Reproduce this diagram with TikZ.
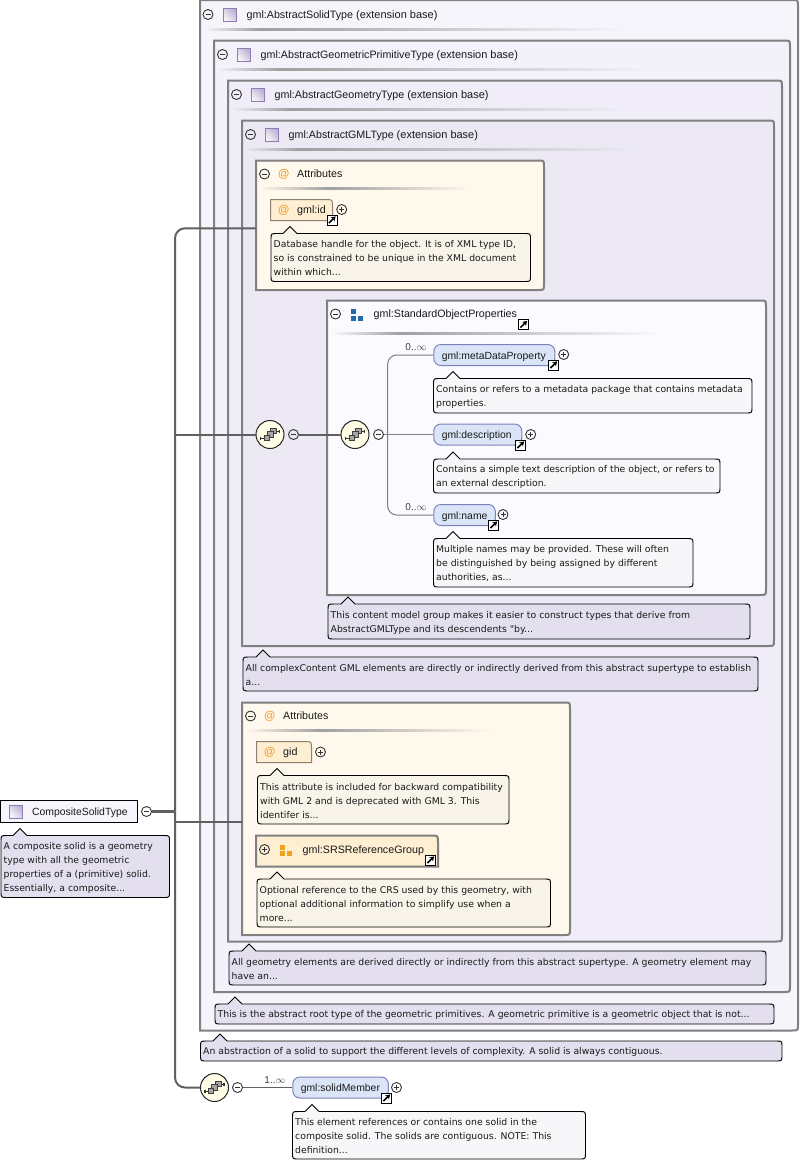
\documentclass[tikz,border=0pt]{standalone}
\usepackage{fontspec}
\setmainfont{Liberation Sans}
\newfontfamily\notefont{DejaVu Sans}
\usetikzlibrary{fit,arrows.meta}

\definecolor{frameline}{HTML}{808080}
\definecolor{trunkline}{HTML}{606060}
\definecolor{levelone}{HTML}{F7F5FC}
\definecolor{leveltwo}{HTML}{F3F1FA}
\definecolor{levelthree}{HTML}{F0EDF8}
\definecolor{levelfour}{HTML}{ECE9F5}
\definecolor{groupfill}{HTML}{FBFBFF}
\definecolor{attrfill}{HTML}{FFF8EC}
\definecolor{tabfill}{HTML}{FFEFD2}
\definecolor{elemfill}{HTML}{DAE6F8}
\definecolor{notelilac}{HTML}{E4DFEE}
\definecolor{notegrey}{HTML}{F7F7F9}
\definecolor{notecream}{HTML}{F8F4EA}
\definecolor{seqfill}{HTML}{FFFDE6}
\definecolor{typeedge}{HTML}{8E7CB6}
\definecolor{attrmark}{HTML}{F0A030}
\definecolor{groupblue}{HTML}{1E6BB0}
\definecolor{grouporange}{HTML}{EFA21C}

\newcommand{\extbase}{{\fontsize{11}{13}\selectfont(extension base)}}

\tikzset{
    framebox/.style={draw=frameline, line width=2pt},
    tabbox/.style={draw=frameline!80!brown, line width=1pt, fill=tabfill},
    notebox/.style={draw=black, line width=0.9pt},
    headtext/.style={font=\fontsize{10.7}{13}\selectfont, text=black!90, inner sep=0, anchor=west, text height=9.6pt, text depth=2pt},
    marktext/.style={headtext, font=\fontsize{11.5}{13}\bfseries\selectfont, text=attrmark},
    notetext/.style={font=\notefont\fontsize{9.3}{14}\selectfont, text=black!90, inner sep=0, anchor=west, align=left, yshift=-1pt},
    multtext/.style={font=\fontsize{10}{12}\selectfont, text=black!75, inner sep=0},
    minusnode/.style={circle, draw=black!80, line width=0.9pt, inner sep=0, minimum size=10pt,
        path picture={\draw[line width=0.9pt, black!80] ([xshift=2.5pt]path picture bounding box.west) -- ([xshift=-2.5pt]path picture bounding box.east);}},
    plusnode/.style={minusnode,
        append after command={(\tikzlastnode.center) +(0,-2.5pt) edge[line width=0.9pt, draw=black!80] +(0,2.5pt)}},
    linknode/.style={rectangle, draw=black, line width=1pt, fill=white, inner sep=0, minimum size=10pt,
        path picture={\draw[line width=1.7pt, black, -{Stealth[length=4.5pt,width=5.5pt]}] ([shift={(-3pt,-3pt)}]path picture bounding box.center) -- ([shift={(3.6pt,3.6pt)}]path picture bounding box.center);}},
    typenode/.style={rectangle, draw=typeedge, line width=1pt, inner sep=0, minimum size=13pt,
        left color=typeedge!8, right color=typeedge!60, shading angle=135},
    seqnode/.style={circle, draw=black!85, line width=1pt, fill=seqfill, inner sep=0, minimum size=28pt,
        path picture={\begin{scope}[shift={(path picture bounding box.center)}]
            \draw[black!80, line width=0.9pt] (-9.5,3.5) -- (-6,3.5) (6,-3.5) -- (9.5,-3.5);
            \draw[black!80, line width=1.4pt] (-9.5,2) -- (-9.5,5) (9.5,-5) -- (9.5,-2);
            \draw[black!75, fill=black!35, line width=0.8pt] (0.7,-6) rectangle (6.7,-0.7);
            \draw[black!75, fill=black!35, line width=0.8pt] (-2.7,-2.7) rectangle (3.3,2.7);
            \draw[black!75, fill=black!35, line width=0.8pt] (-6,0.7) rectangle (-0.7,6.3);
        \end{scope}}},
    elemnode/.style={rectangle, rounded corners=7pt, draw=black!55!blue!50, line width=1pt, fill=elemfill,
        minimum height=21pt, inner xsep=8pt, inner ysep=0, anchor=west, align=left, text width=#1,
        text height=10pt, text depth=1.4pt,
        font=\fontsize{10.4}{13}\selectfont, text=black!90},
    iconbit/.style={rectangle, inner sep=0, minimum size=5pt},
    trunk/.style={draw=trunkline, line width=2pt},
    branch/.style={draw=frameline, line width=1pt}
}

% box with square left corners and round right ones
\newcommand{\tabshape}[6]{
    \draw[#1] (#3,#4) -- (#5-6,#4) .. controls (#5,#4) .. (#5,#4+6) -- (#5,#6-6) .. controls (#5,#6) .. (#5-6,#6) -- (#3,#6) -- cycle;
    \node[fit={(#3,#4) (#5,#6)}, inner sep=0] (#2) {};
}
% same, with the upper right corner round only
\newcommand{\flagshape}[6]{
    \draw[#1] (#3,#4) -- (#5-7,#4) .. controls (#5,#4) .. (#5,#4+7) -- (#5,#6) -- (#3,#6) -- cycle;
    \node[fit={(#3,#4) (#5,#6)}, inner sep=0] (#2) {};
}
% note with its small peak on the upper edge
\newcommand{\notemark}[8]{
    \draw[notebox, #1] (#7-7,#4) -- (#7,#4-7) -- (#7+7,#4) -- (#5-6,#4) .. controls (#5,#4) .. (#5,#4+6) -- (#5,#6-6) .. controls (#5,#6) .. (#5-6,#6) -- (#3+6,#6) .. controls (#3,#6) .. (#3,#6-6) -- (#3,#4+6) .. controls (#3,#4) .. (#3+6,#4) -- cycle;
    \node[notetext] (#2) at (#3+2.5,{(#4+#6)/2}) {#8};
}
% fading rule under a box heading
\newcommand{\fadeline}[5]{
    \shade[left color=#5, right color=frameline!75] (#1,#4) rectangle (#2,#4+2);
    \shade[left color=frameline!75, right color=#5] (#2,#4) rectangle (#3,#4+2);
}

\begin{document}
\begin{tikzpicture}[x=1pt, y=-1pt]
    \useasboundingbox (0,0) rectangle (800,1163);

    % Nested types
    \tabshape{framebox, fill=levelone}{solidBox}{200}{0}{798}{1030.5}
    \tabshape{framebox, fill=leveltwo}{primBox}{214}{40.5}{790}{992}
    \tabshape{framebox, fill=levelthree}{geomBox}{228}{80.5}{782}{941.5}
    \tabshape{framebox, fill=levelfour}{gmlBox}{242}{120.5}{774}{646}

    % Headings of the types
    \node[minusnode] (solidMinus) at (208,14.5) {};
    \node[typenode] (solidIcon) at (229.5,14.5) {};
    \node[headtext] (solidText) at (246.5,14.5) {gml:AbstractSolidType \extbase};
    \fadeline{203}{260}{630}{28.5}{levelone}

    \node[minusnode] (primMinus) at (222.5,54.5) {};
    \node[typenode] (primIcon) at (243.5,54.5) {};
    \node[headtext] (primText) at (260.5,54.5) {gml:AbstractGeometricPrimitiveType \extbase};
    \fadeline{217}{280}{650}{68.5}{leveltwo}

    \node[minusnode] (geomMinus) at (236.5,94.5) {};
    \node[typenode] (geomIcon) at (257.5,94.5) {};
    \node[headtext] (geomText) at (274.5,94.5) {gml:AbstractGeometryType \extbase};
    \fadeline{231}{290}{625}{108.5}{levelthree}

    \node[minusnode] (gmlMinus) at (250.5,134.5) {};
    \node[typenode] (gmlIcon) at (271.5,134.5) {};
    \node[headtext] (gmlText) at (288.5,134.5) {gml:AbstractGMLType \extbase};
    \fadeline{245}{300}{640}{148}{levelfour}

    % First attributes
    \tabshape{framebox, fill=attrfill}{attrOne}{256}{160.5}{544}{290}
    \node[minusnode] (attrOneMinus) at (264.5,174) {};
    \node[marktext] (attrOneAt) at (278,174) {@};
    \node[headtext] (attrOneText) at (297,174) {Attributes};
    \fadeline{259}{330}{470}{187.5}{attrfill}

    \flagshape{tabbox}{idBox}{270.5}{199.5}{332.5}{220.5}
    \node[marktext] (idAt) at (278,210) {@};
    \node[headtext] (idText) at (297,210) {gml:id};
    \node[linknode] (idLink) at (332,220) {};
    \node[plusnode] (idPlus) at (341.7,209.5) {};
    \notemark{fill=notecream}{idNote}{271}{233.5}{530.5}{281.5}{290}{Database handle for the object. It is of XML type ID,\\so is constrained to be unique in the XML document\\within which...}

    % Object properties group
    \tabshape{framebox, fill=groupfill}{groupBox}{327}{300.5}{766}{595}
    \node[minusnode] (groupMinus) at (335.5,314) {};
    \node[iconbit, fill=groupblue] (groupBitA) at (353.3,311.5) {};
    \node[iconbit, fill=groupblue] (groupBitB) at (353.3,318.2) {};
    \node[iconbit, fill=groupblue] (groupBitC) at (360.6,318.2) {};
    \node[headtext] (groupText) at (373.5,314) {gml:StandardObjectProperties};
    \node[linknode] (groupLink) at (523.5,324.5) {};
    \fadeline{330}{400}{660}{332.5}{groupfill}

    \node[elemnode=105pt] (metaData) at (433.3,355) {gml:metaDataProperty};
    \node[linknode] (metaLink) at (553.5,365) {};
    \node[plusnode] (metaPlus) at (563.7,354.5) {};
    \notemark{fill=notegrey}{metaNote}{433.5}{378.5}{752}{413}{453}{Contains or refers to a metadata package that contains metadata\\properties.}

    \node[elemnode=72pt] (descr) at (433.3,434.5) {gml:description};
    \node[linknode] (descrLink) at (520.5,445) {};
    \node[plusnode] (descrPlus) at (530.7,434.5) {};
    \notemark{fill=notegrey}{descrNote}{433.5}{459}{720}{493}{453}{Contains a simple text description of the object, or refers to\\an external description.}

    \node[elemnode=45.5pt] (nameElem) at (433.3,515) {gml:name};
    \node[linknode] (nameLink) at (493.5,525) {};
    \node[plusnode] (namePlus) at (503,514.5) {};
    \notemark{fill=notegrey}{nameNote}{433.5}{538.5}{693}{587}{453}{Multiple names may be provided. These will often\\be distinguished by being assigned by different\\authorities, as...}

    \node[multtext] (metaMult) at (416,347) {0..$\infty$};
    \node[multtext] (nameMult) at (416,507) {0..$\infty$};

    \notemark{fill=notelilac}{groupNote}{328}{604}{750}{639}{348}{This content model group makes it easier to construct types that derive from\\AbstractGMLType and its descendents "by...}
    \notemark{fill=notelilac}{gmlNote}{243}{657}{758}{691}{263}{All complexContent GML elements are directly or indirectly derived from this abstract supertype to establish\\a...}

    % Second attributes
    \tabshape{framebox, fill=attrfill}{attrTwo}{242}{702.5}{570}{935}
    \node[minusnode] (attrTwoMinus) at (250.5,716) {};
    \node[marktext] (attrTwoAt) at (264,716) {@};
    \node[headtext] (attrTwoText) at (283,716) {Attributes};
    \fadeline{245}{320}{490}{729.5}{attrfill}

    \flagshape{tabbox}{gidBox}{256.5}{741.5}{311.5}{762.5}
    \node[marktext] (gidAt) at (264,752) {@};
    \node[headtext] (gidText) at (283,752) {gid};
    \node[plusnode] (gidPlus) at (320.5,752) {};
    \notemark{fill=notecream}{gidNote}{257.5}{775.5}{509}{824}{277}{This attribute is included for backward compatibility\\with GML 2 and is deprecated with GML 3. This\\identifer is...}

    \flagshape{framebox, fill=tabfill}{srsBox}{256}{835.5}{438}{866.5}
    \node[plusnode] (srsPlus) at (264.5,849.5) {};
    \node[iconbit, fill=grouporange] (srsBitA) at (282.5,847) {};
    \node[iconbit, fill=grouporange] (srsBitB) at (282.5,853.2) {};
    \node[iconbit, fill=grouporange] (srsBitC) at (289.5,853.2) {};
    \node[headtext] (srsText) at (302.5,849.5) {gml:SRSReferenceGroup};
    \node[linknode] (srsLink) at (430.5,860) {};
    \notemark{fill=notecream}{srsNote}{257}{879}{550.5}{927}{277}{Optional reference to the CRS used by this geometry, with\\optional additional information to simplify use when a\\more...}

    % Notes of the outer types
    \notemark{fill=notelilac}{geomNote}{229}{951}{766}{985}{249}{All geometry elements are derived directly or indirectly from this abstract supertype. A geometry element may\\have an...}
    \notemark{fill=notelilac}{primNote}{215}{1004}{774}{1024}{235}{This is the abstract root type of the geometric primitives. A geometric primitive is a geometric object that is not...}
    \notemark{fill=notelilac}{solidNote}{200.5}{1041}{782}{1061}{220}{An abstraction of a solid to support the different levels of complexity. A solid is always contiguous.}

    % Root type
    \node[rectangle, draw=black, line width=1pt, fill=levelone, inner sep=0, minimum width=136.5pt, minimum height=22pt] (composite) at (69,811) {};
    \node[typenode] (compositeIcon) at (16,811.5) {};
    \node[headtext, font=\fontsize{10.4}{13}\selectfont] (compositeText) at (32,811.5) {CompositeSolidType};
    \node[minusnode] (compositeMinus) at (146.5,811.5) {};
    \notemark{fill=notelilac}{compositeNote}{1}{835.5}{169.5}{897.5}{20}{A composite solid is a geometry\\type with all the geometric\\properties of a (primitive) solid.\\Essentially, a composite...}

    % Sequences
    \node[seqnode] (seqOne) at (270,434.5) {};
    \node[minusnode] (seqOneMinus) at (293.5,434.5) {};
    \node[seqnode] (seqTwo) at (355,434.5) {};
    \node[minusnode] (seqTwoMinus) at (378.5,434.5) {};
    \node[seqnode] (seqThree) at (214.5,1087.5) {};
    \node[minusnode] (seqThreeMinus) at (237.5,1087.5) {};

    % Solid member
    \node[elemnode=79.5pt] (member) at (292.3,1087.5) {gml:solidMember};
    \node[linknode] (memberLink) at (386.5,1098) {};
    \node[plusnode] (memberPlus) at (396.5,1087.5) {};
    \node[multtext] (memberMult) at (275,1080) {1..$\infty$};
    \notemark{fill=notegrey}{memberNote}{292.5}{1111.5}{585.5}{1159}{312}{This element references or contains one solid in the\\composite solid. The solids are contiguous. NOTE: This\\definition...}

    % Lines
    \coordinate (trunkTop) at (175,811.5);
    \coordinate (trunkSeq) at (175,434.5);
    \coordinate (trunkAttr) at (175,822);
    \coordinate (fork) at (387.7,434.5);
    \draw[trunk, line width=3pt] (compositeMinus) -- (trunkTop);
    \draw[trunk, rounded corners=10pt] ([yshift=-3pt]attrOne.west) -| (trunkTop);
    \draw[trunk, rounded corners=10pt] (seqThree) -| (trunkTop);
    \draw[trunk] (trunkSeq) -- (seqOne);
    \draw[trunk, line width=1.5pt] (trunkAttr) -- ([yshift=-3.25pt]attrTwo.west);
    \draw[trunk] (seqOneMinus) -- (seqTwo);
    \draw[branch, rounded corners=9pt] (metaData.west) -| (fork);
    \draw[branch, rounded corners=9pt] (nameElem.west) -| (fork);
    \draw[branch] (seqTwoMinus) -- (descr.west);
    \draw[trunk, line width=1.5pt] (seqThreeMinus) -- (member.west);

\end{tikzpicture}
\end{document}
